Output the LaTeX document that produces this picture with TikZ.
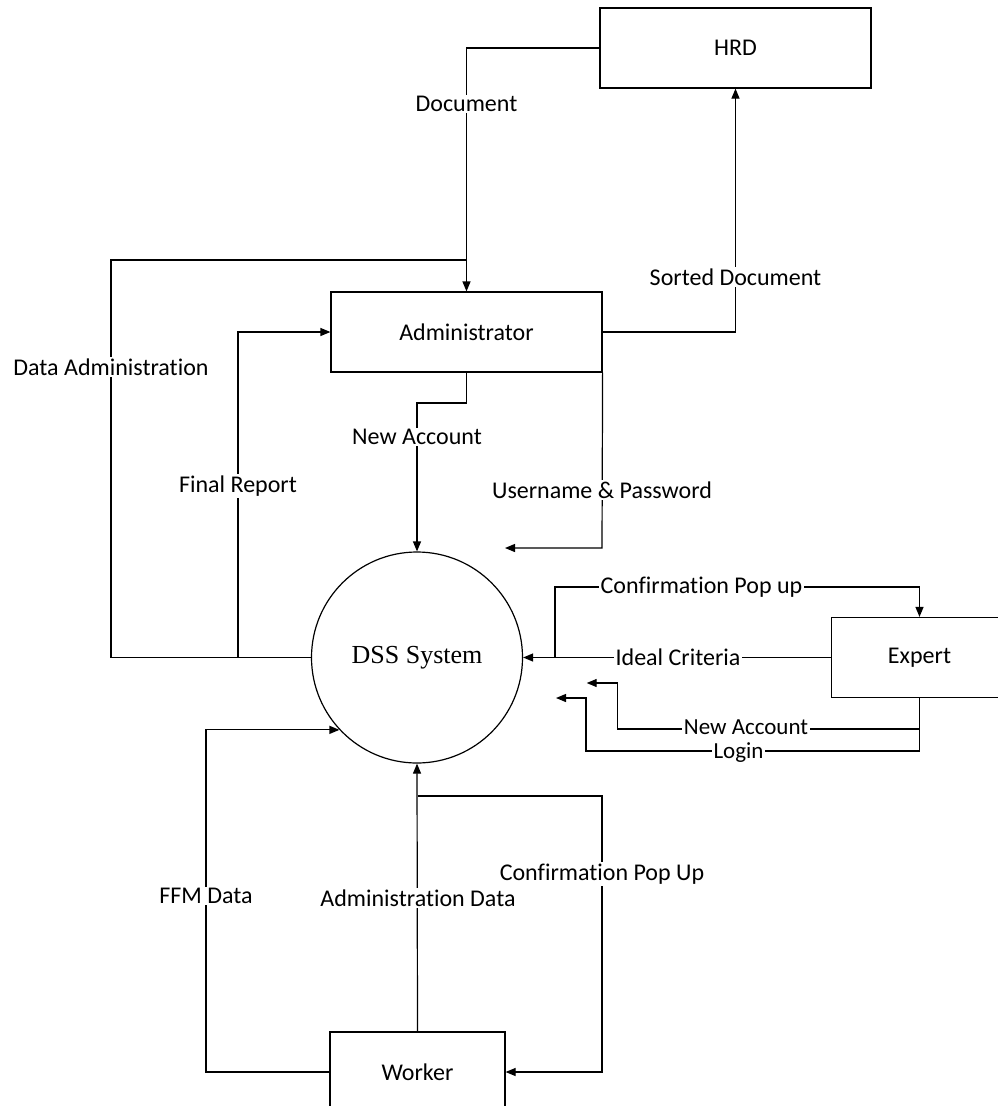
\documentclass[tikz,border=0pt]{standalone}
\usepackage{fontspec}
\setmainfont{Carlito}[Ligatures={NoCommon}]
\newfontfamily\dssfont{Liberation Serif}
\usetikzlibrary{arrows.meta}
\begin{document}
\begin{tikzpicture}[x=1pt,y=-1pt,
  flow/.style={line width=1.2pt},
  arr/.style={flow,-{Triangle[length=10pt,width=8pt]}},
  box/.style={draw,line width=1.2pt,minimum height=80pt,inner sep=0pt,
    font=\fontsize{24}{28}\selectfont},
  lab/.style={fill=white,inner sep=1.5pt,font=\fontsize{24}{28}\selectfont},
]
\useasboundingbox (0,0) rectangle (997,1106);
\fill[white] (0,0) rectangle (997,1106);

% entities and the process
\node[box,minimum width=271pt] (hrd) at (735.5,48) {HRD};
\node[box,minimum width=271pt] (admin) at (466.5,332) {Administrator};
\node[box,minimum width=176pt] (expert) at (919.5,657.5) {Expert};
\node[box,minimum width=175pt] (worker) at (417.5,1072) {Worker};
\node[draw,circle,line width=1.2pt,minimum size=211pt,inner sep=0pt,
  font=\dssfont\fontsize{26}{30}\selectfont] (dss) at (417,657.5) {DSS System};

% helper points
\coordinate (docc) at (466.5,48);
\coordinate (dac) at (466.5,260);
\coordinate (dal) at (111,260);
\coordinate (frb) at (238,657.5);
\coordinate (frt) at (238,332);
\coordinate (sdc) at (735.5,332);
\coordinate (na1) at (466.5,403);
\coordinate (na2) at (417,403);
\coordinate (up1) at (602,548);
\coordinate (upend) at (505,548);
\coordinate (cp1) at (555,657.5);
\coordinate (cp2) at (555,587);
\coordinate (cp3) at (919.5,587);
\coordinate (ej1) at (919.5,729);
\coordinate (ej2) at (919.5,751);
\coordinate (ena1) at (617.7,729);
\coordinate (ena2) at (617.7,683);
\coordinate (enaend) at (586.7,683);
\coordinate (lg1) at (586,751);
\coordinate (lg2) at (586,698);
\coordinate (lgend) at (556,698);
\coordinate (ffmx) at (206,0);
\coordinate (ffmb) at (206,1072);
\coordinate (ffmt) at (dss.223 -| ffmx);
\coordinate (cw1) at (417.5,796);
\coordinate (cw2) at (602,796);
\coordinate (cw3) at (602,1072);

% flows
\draw[arr] (hrd.west) -- (docc) -- (admin.north);
\draw[flow] (dss.west) -| (dal) -- (dac);
\draw[arr] (frb) -- (frt) -- (admin.west);
\draw[arr] (admin.east) -- (sdc) -- (hrd.south);
\draw[arr] (admin.south) -- (na1) -- (na2) -- (dss.north);
\draw[arr] (admin.south east) -- (up1) -- (upend);
\draw[arr] (cp1) -- (cp2) -- (cp3) -- (expert.north);
\draw[arr] (expert.west) -- (dss.east);
\draw[arr] (expert.south) -- (ej1) -- (ena1) -- (ena2) -- (enaend);
\draw[flow] (ej1) -- (ej2);
\draw[arr] (ej2) -- (lg1) -- (lg2) -- (lgend);
\draw[arr] (worker.west) -- (ffmb) -- (ffmt) -- (dss.223);
\draw[arr] (worker.north) -- (dss.south);
\draw[arr] (cw1) -- (cw2) -- (cw3) -- (worker.east);

% flow labels
\node[lab] (lDoc) at (466.5,104) {Document};
\node[lab] (lDA) at (111,367) {Data Administration};
\node[lab] (lFR) at (238,486) {Final Report};
\node[lab] (lSD) at (735.5,277) {Sorted Document};
\node[lab] (lNA) at (417,437) {New Account};
\node[lab] (lUP) at (602,490) {Username \& Password};
\node[lab] (lCP) at (701.5,587) {Confirmation Pop up};
\node[lab] (lIC) at (678,657.5) {Ideal Criteria};
\node[lab,inner ysep=0pt,font=\fontsize{23}{26}\selectfont] (lENA) at (746,727) {New Account};
\node[lab,inner ysep=0pt,font=\fontsize{23}{26}\selectfont] (lLG) at (738.5,753) {Login};
\node[lab] (lFFM) at (206,896) {FFM Data};
\node[lab] (lAD) at (418,898) {Administration Data};
\node[lab] (lCW) at (602,874) {Confirmation Pop Up};
\end{tikzpicture}
\end{document}
